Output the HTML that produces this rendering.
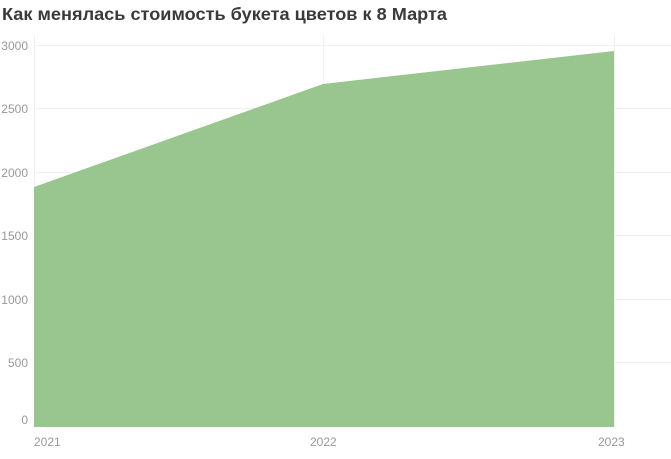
<!DOCTYPE html>
<html><head><meta charset="utf-8"><style>
body{margin:0;background:#fff;width:671px;height:459px;overflow:hidden}
svg{display:block}
</style></head><body>
<svg width="671" height="459" xmlns="http://www.w3.org/2000/svg" font-family="Liberation Sans, DejaVu Sans, sans-serif">
<text x="2" y="20" font-size="17.5" font-weight="bold" fill="#3a3a3a" textLength="445" lengthAdjust="spacingAndGlyphs">Как менялась стоимость букета цветов к 8 Марта</text>
<g stroke="#f0f0f0" stroke-width="1">
<line x1="34" y1="45.5" x2="671" y2="45.5"/>
<line x1="34" y1="108.5" x2="671" y2="108.5"/>
<line x1="34" y1="172.5" x2="671" y2="172.5"/>
<line x1="34" y1="235.5" x2="671" y2="235.5"/>
<line x1="34" y1="299.5" x2="671" y2="299.5"/>
<line x1="34" y1="362.5" x2="671" y2="362.5"/>
<line x1="34.5" y1="35" x2="34.5" y2="427"/>
<line x1="323.5" y1="35" x2="323.5" y2="427"/>
<line x1="614.5" y1="35" x2="614.5" y2="427"/>
</g>
<polygon points="34,187 323,84 614,51 614,427 34,427" fill="#99c58f"/>
<g font-size="12" fill="#999" text-anchor="end">
<text x="28" y="50">3000</text>
<text x="28" y="113">2500</text>
<text x="28" y="177">2000</text>
<text x="28" y="240">1500</text>
<text x="28" y="304">1000</text>
<text x="28" y="367">500</text>
<text x="28" y="424">0</text>
</g>
<g font-size="12" fill="#999">
<text x="34" y="446">2021</text>
<text x="310" y="446">2022</text>
<text x="598" y="446">2023</text>
</g>
</svg>
</body></html>
